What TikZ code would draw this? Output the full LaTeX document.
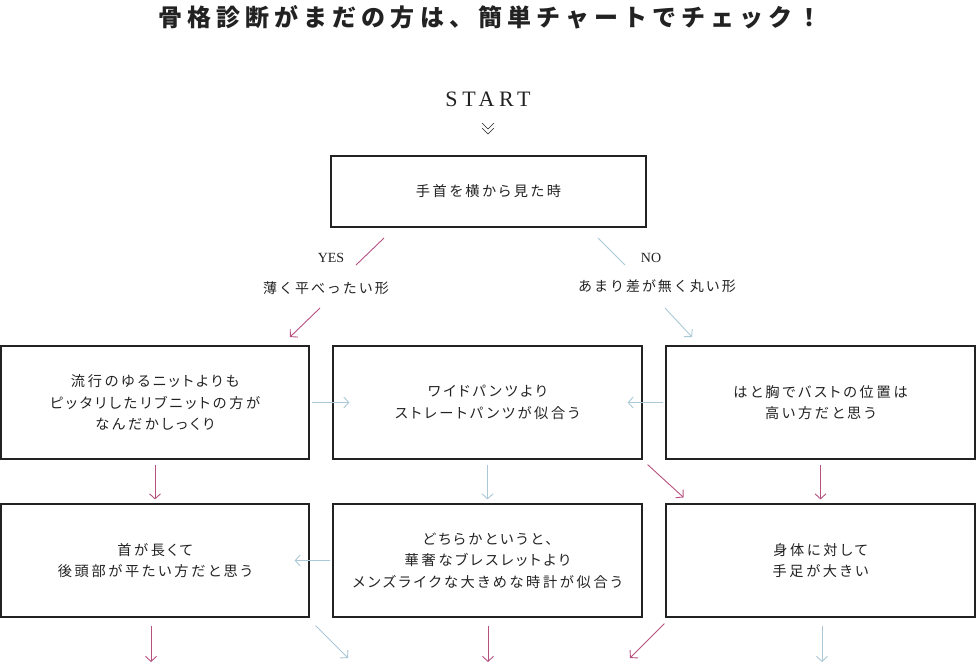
\documentclass[tikz,border=0pt]{standalone}
\usepackage{fontspec}
\setmainfont{Liberation Serif}
\newfontfamily\jpbox{Noto Sans CJK JP}[LetterSpace=19,RawFeature=+palt]
\newfontfamily\jplabf{Noto Sans CJK JP}[LetterSpace=14]
\newfontfamily\jptitle{Noto Sans CJK JP}[LetterSpace=21]
\newfontfamily\serifsp{Liberation Serif}[LetterSpace=21]
\usetikzlibrary{arrows.meta}
\definecolor{pinkc}{RGB}{181,80,127}
\definecolor{bluec}{RGB}{170,200,215}
\definecolor{txt}{RGB}{34,34,34}
\tikzset{
  box/.style={draw=txt, line width=1.2pt, rectangle, inner sep=0pt, align=center,
    text=txt, font=\jpbox\fontsize{14.2}{21.5}\selectfont},
  wbox/.style={box, minimum width=308pt, minimum height=113pt},
  titletext/.style={text=txt, font=\jptitle\bfseries\fontsize{24}{28}\selectfont},
  starttext/.style={text=txt, font=\serifsp\fontsize{22}{25}\selectfont},
  yn/.style={text=txt, font=\fontsize{14}{16}\selectfont},
  jplab/.style={text=txt, font=\jplabf\fontsize{14}{16}\selectfont},
  tip/.style={-{Straight Barb[length=5pt,width=11pt]}},
  pinkarrow/.style={draw=pinkc, line width=0.9pt, tip},
  bluearrow/.style={draw=bluec, line width=0.9pt, tip},
  pinkline/.style={draw=pinkc, line width=0.9pt},
  blueline/.style={draw=bluec, line width=0.9pt},
}
\begin{document}
\begin{tikzpicture}[x=1pt,y=-1pt]
\useasboundingbox (0,0) rectangle (976,670);
\node[titletext] (title) at (490,17) {骨格診断がまだの方は、簡単チャートでチェック！};
\node[starttext] (start) at (488,99) {START};
\draw[draw=txt, line width=0.6pt] (482,123) -- (488,129) -- (494,123);
\draw[draw=txt, line width=0.6pt] (482,128) -- (488,134) -- (494,128);

\node[box, minimum width=315pt, minimum height=71pt] (q1) at (488.5,191.5) {手首を横から見た時};

\node[yn] (yes) at (331,258) {YES};
\node[jplab] (yestext) at (326,288) {薄く平べったい形};
\node[yn] (no) at (651,258) {NO};
\node[jplab] (notext) at (657,286) {あまり差が無く丸い形};

\coordinate (ya) at (384,238); \coordinate (yb) at (356,265);
\coordinate (yc) at (320,308); \coordinate (yd) at (290,337);
\coordinate (na) at (598,238); \coordinate (nb) at (625,265);
\coordinate (nc) at (665,308); \coordinate (nd) at (692,337);
\draw[pinkline] (ya) -- (yb);
\draw[pinkarrow] (yc) -- (yd);
\draw[blueline] (na) -- (nb);
\draw[bluearrow] (nc) -- (nd);

\node[wbox] (a) at (155,402.5) {流行のゆるニットよりも\\ピッタリしたリブニットの方が\\なんだかしっくり};
\node[wbox, minimum width=309pt] (b) at (487.5,402.5) {ワイドパンツより\\ストレートパンツが似合う};
\node[wbox, minimum width=309pt] (c) at (820.5,402.5) {はと胸でバストの位置は\\高い方だと思う};

\node[wbox] (d) at (155,560.5) {首が長くて\\後頭部が平たい方だと思う};
\node[wbox, minimum width=309pt] (e) at (487.5,560.5) {どちらかというと、\\華奢なブレスレットより\\メンズライクな大きめな時計が似合う};
\node[wbox, minimum width=309pt] (f) at (820.5,560.5) {身体に対して\\手足が大きい};

% row 2 horizontal
\draw[bluearrow] ([xshift=2pt]a.east) -- ([xshift=17pt]b.west);
\draw[bluearrow] ([xshift=-2pt]c.west) -- ([xshift=-15pt]b.east);
% row 2 -> row 3
\draw[pinkarrow] ([yshift=-5pt]a.south) -- ([yshift=4pt]d.north);
\draw[bluearrow] ([yshift=-5pt]b.south) -- ([yshift=4pt]e.north);
\draw[pinkarrow] ([yshift=-5pt]c.south) -- ([yshift=4pt]f.north);
\draw[pinkarrow] ([xshift=5pt,yshift=-5pt]b.south east) -- ([xshift=-137pt,yshift=6pt]f.north);
% row 3 horizontal
\draw[bluearrow] ([xshift=-2pt]e.west) -- ([xshift=-15pt]d.east);
% bottom free ends
\coordinate (o1) at (151,662);
\coordinate (o2) at (348,658);
\coordinate (o3) at (488,662);
\coordinate (o4) at (630,658);
\coordinate (o5) at (822,662);
\draw[pinkarrow] ([xshift=-4pt,yshift=-8pt]d.south) -- (o1);
\draw[bluearrow] ([xshift=6pt,yshift=-8pt]d.south east) -- (o2);
\draw[pinkarrow] ([xshift=0.5pt,yshift=-8pt]e.south) -- (o3);
\draw[pinkarrow] ([xshift=-1pt,yshift=-6pt]f.south west) -- (o4);
\draw[bluearrow] ([xshift=1.5pt,yshift=-8pt]f.south) -- (o5);
\end{tikzpicture}
\end{document}
